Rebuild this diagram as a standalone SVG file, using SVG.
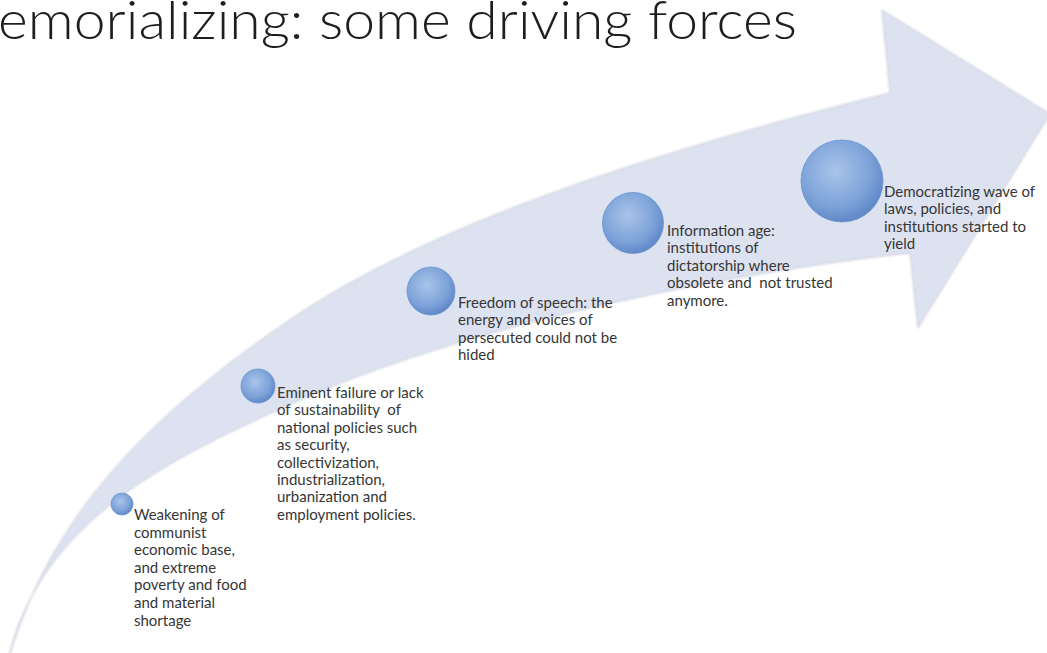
<svg xmlns="http://www.w3.org/2000/svg" width="1047" height="653" viewBox="0 0 1047 653">
<defs>
<radialGradient id="ball" cx="0.42" cy="0.38" r="0.62">
<stop offset="0" stop-color="#a9c4ea"/>
<stop offset="0.7" stop-color="#7ca2d8"/>
<stop offset="1" stop-color="#6189c8"/>
</radialGradient>
<filter id="soft" x="-5%" y="-5%" width="110%" height="110%">
<feGaussianBlur stdDeviation="0.8"/>
</filter>
</defs>
<style>
.t{font-family:Lato,"Liberation Sans",sans-serif;font-size:15px;fill:#363636;white-space:pre}
.title{font-family:Lato,"Liberation Sans",sans-serif;font-weight:300;font-size:53px;fill:#1e1e1e}
.ball{fill:url(#ball);stroke:#6a93cf;stroke-width:0.8}
</style>
<rect width="1047" height="653" fill="#ffffff"/>
<text class="title" x="-2" y="39" textLength="799" lengthAdjust="spacingAndGlyphs">emorializing: some driving forces</text>
<g id="arrow">
<path d="M8,660 C50,520 140,420 300,313 C450,215 680,145 890,93 L882,10 L1050,114 L918,328 L910,253 C750,270 480,320 300,400 C170,458 40,520 8,660 Z" fill="#dde2f1" stroke="#c6c9d6" stroke-width="1" filter="url(#soft)"/>
</g>
<g id="connectors"></g>
<g id="node1">
<circle class="ball" cx="122" cy="504" r="11"/>
<text class="t" x="134" y="520"><tspan x="134">Weakening of</tspan><tspan x="134" dy="17.6">communist</tspan><tspan x="134" dy="17.6">economic base,</tspan><tspan x="134" dy="17.6">and extreme</tspan><tspan x="134" dy="17.6">poverty and food</tspan><tspan x="134" dy="17.6">and material</tspan><tspan x="134" dy="17.6">shortage</tspan></text>
</g>
<g id="node2">
<circle class="ball" cx="258" cy="386" r="17"/>
<text class="t" x="277" y="398"><tspan x="277">Eminent failure or lack</tspan><tspan x="277" dy="17.4">of sustainability  of</tspan><tspan x="277" dy="17.4">national policies such</tspan><tspan x="277" dy="17.4">as security,</tspan><tspan x="277" dy="17.4">collectivization,</tspan><tspan x="277" dy="17.4">industrialization,</tspan><tspan x="277" dy="17.4">urbanization and</tspan><tspan x="277" dy="17.4">employment policies.</tspan></text>
</g>
<g id="node3">
<circle class="ball" cx="431" cy="291" r="24"/>
<text class="t" x="458" y="308"><tspan x="458">Freedom of speech: the</tspan><tspan x="458" dy="17.4">energy and voices of</tspan><tspan x="458" dy="17.4">persecuted could not be</tspan><tspan x="458" dy="17.4">hided</tspan></text>
</g>
<g id="node4">
<circle class="ball" cx="633" cy="223" r="30.5"/>
<text class="t" x="667" y="236"><tspan x="667">Information age:</tspan><tspan x="667" dy="17.4">institutions of</tspan><tspan x="667" dy="17.4">dictatorship where</tspan><tspan x="667" dy="17.4">obsolete and  not trusted</tspan><tspan x="667" dy="17.4">anymore.</tspan></text>
</g>
<g id="node5">
<circle class="ball" cx="842" cy="181" r="41"/>
<text class="t" x="884" y="197"><tspan x="884">Democratizing wave of</tspan><tspan x="884" dy="17.4">laws, policies, and</tspan><tspan x="884" dy="17.4">institutions started to</tspan><tspan x="884" dy="17.4">yield</tspan></text>
</g>
</svg>
